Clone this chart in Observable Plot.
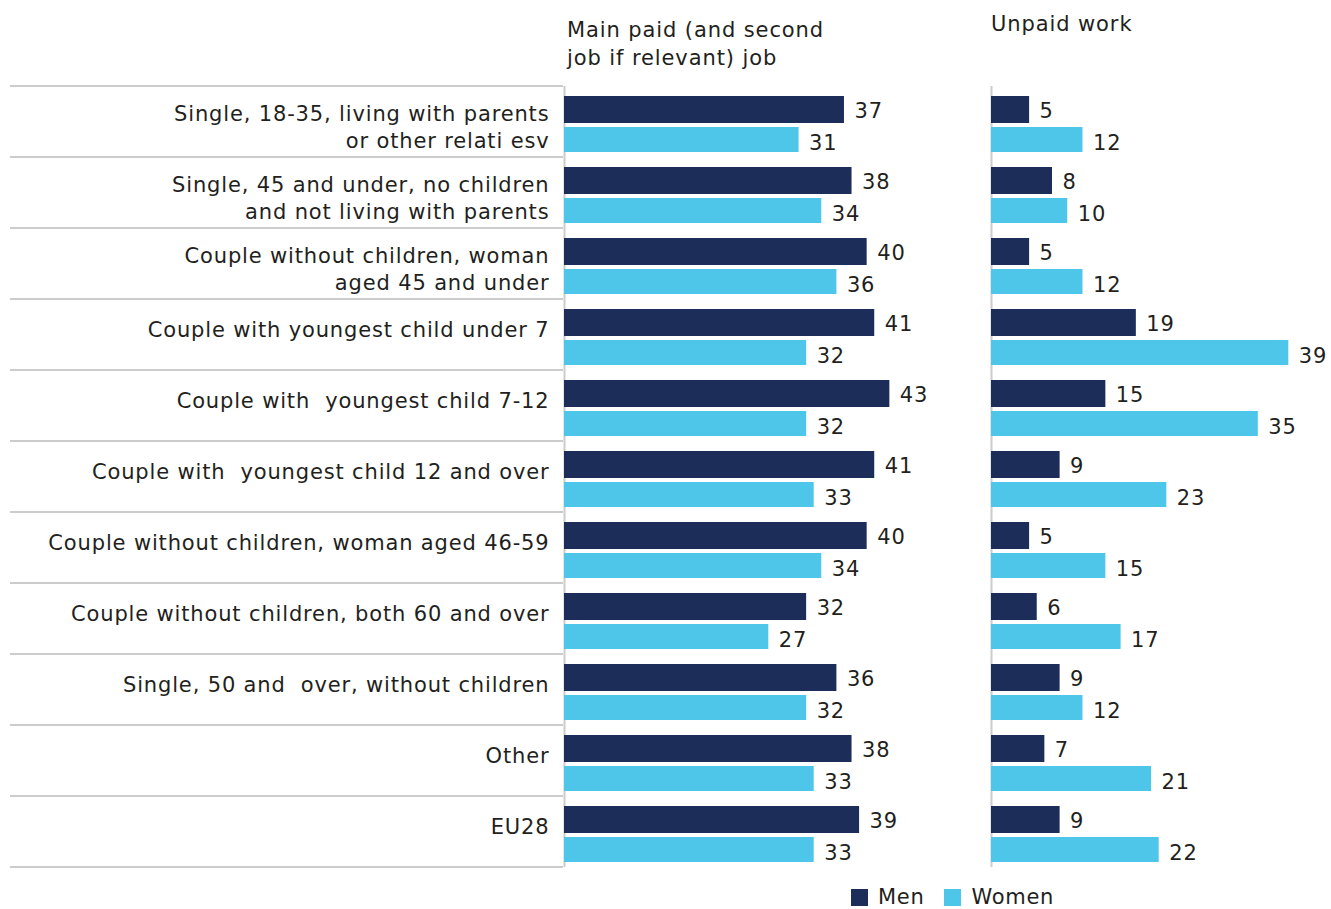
<!DOCTYPE html>
<html>
<head>
<meta charset="utf-8">
<script src="https://cdn.jsdelivr.net/npm/d3@7"></script>
<script src="https://cdn.jsdelivr.net/npm/@observablehq/plot@0.6"></script>
<style>
  body { margin: 0; background: #fff; font-family: "DejaVu Sans", sans-serif; color: #231f20; }
  #wrap { position: relative; width: 1331px; height: 909px; overflow: hidden; }
  .abs { position: absolute; }
  .title { font-size: 21px; line-height: 28px; color: #231f20; letter-spacing: 0.9px; }
  .legend { font-size: 21px; display: flex; align-items: center; letter-spacing: 0.7px; }
  .sw { width: 17px; height: 17px; display: inline-block; margin-right: 10px; }
  svg { overflow: visible; }
  svg text { letter-spacing: 0.85px; }
</style>
</head>
<body>
<div id="wrap">
  <div class="abs title" style="left:567px; top:16px;">Main paid (and second<br>job if relevant) job</div>
  <div class="abs title" style="left:991px; top:10px;">Unpaid work</div>
  <div id="p1" class="abs" style="left:0; top:80px;"></div>
  <div id="p2" class="abs" style="left:990px; top:80px;"></div>
  <div id="legend" class="abs legend" style="left:851px; top:885px;"></div>
</div>
<script>
const categories = [
  "Single, 18-35, living with parents\nor other relati esv",
  "Single, 45 and under, no children\nand not living with parents",
  "Couple without children, woman\naged 45 and under",
  "Couple with youngest child under 7",
  "Couple with  youngest child 7-12",
  "Couple with  youngest child 12 and over",
  "Couple without children, woman aged 46-59",
  "Couple without children, both 60 and over",
  "Single, 50 and  over, without children",
  "Other",
  "EU28"
];
const paidMen     = [37, 38, 40, 41, 43, 41, 40, 32, 36, 38, 39];
const paidWomen   = [31, 34, 36, 32, 32, 33, 34, 27, 32, 33, 33];
const unpaidMen   = [5, 8, 5, 19, 15, 9, 5, 6, 9, 7, 9];
const unpaidWomen = [12, 10, 12, 39, 35, 23, 15, 17, 12, 21, 22];
const seriesNames = ["Men", "Women"];
const colors = ["#1c2d5a", "#4ec6ea"];

const rows = categories.map((c, i) => ({
  cat: c, paidMen: paidMen[i], paidWomen: paidWomen[i],
  unpaidMen: unpaidMen[i], unpaidWomen: unpaidWomen[i]
}));
const multiLine = categories.filter(c => c.includes("\n"));
const singleLine = categories.filter(c => !c.includes("\n"));

const FONT = "DejaVu Sans, sans-serif";
const H = 790, MT = 6, MB = 3;

function panel({width, marginLeft, xmax, menKey, womenKey, withAxis}) {
  const marks = [
    Plot.ruleX([0], {stroke: "#cccccc", strokeWidth: 2}),
    Plot.barX(rows, {y: "cat", x: menKey, fill: colors[0], insetTop: 10, insetBottom: 34}),
    Plot.barX(rows, {y: "cat", x: womenKey, fill: colors[1], insetTop: 41, insetBottom: 5}),
    Plot.text(rows, {y: "cat", x: menKey, text: d => String(d[menKey]), dx: 10, dy: -11,
      textAnchor: "start", fontSize: 21, fill: "#231f20"}),
    Plot.text(rows, {y: "cat", x: womenKey, text: d => String(d[womenKey]), dx: 10, dy: 21,
      textAnchor: "start", fontSize: 21, fill: "#231f20"})
  ];
  if (withAxis) {
    marks.push(Plot.axisY(multiLine, {tickSize: 0, tickPadding: 15, fontSize: 21, lineHeight: 1.3,
      fill: "#231f20", label: null, dy: 4}));
    marks.push(Plot.axisY(singleLine, {tickSize: 0, tickPadding: 15, fontSize: 21,
      fill: "#231f20", label: null, dy: -5}));
  }
  return Plot.plot({
    width, height: H, marginLeft, marginRight: 0, marginTop: MT, marginBottom: MB,
    style: {fontFamily: FONT, fontSize: "21px", color: "#231f20", background: "transparent", overflow: "visible"},
    x: {domain: [0, xmax], axis: null},
    y: {domain: categories, padding: 0, axis: null, label: null},
    marks
  });
}

const plot1 = panel({width: 990, marginLeft: 564, xmax: 56.3, menKey: "paidMen", womenKey: "paidWomen", withAxis: true});
const plot2 = panel({width: 341, marginLeft: 1, xmax: 44.6, menKey: "unpaidMen", womenKey: "unpaidWomen", withAxis: false});
document.getElementById("p1").appendChild(plot1);
document.getElementById("p2").appendChild(plot2);

// row separator lines in the label area, positioned with Plot's own y scale
const ys = plot1.scale("y");
const bw = ys.bandwidth;
const edges = categories.map(c => ys.apply(c)).concat([ys.apply(categories[categories.length - 1]) + bw]);
const g = d3.select(plot1).append("g").attr("stroke", "#cccccc").attr("stroke-width", 2);
edges.forEach(yv => {
  g.append("line").attr("x1", 10).attr("x2", 563).attr("y1", yv).attr("y2", yv);
});

// legend
const lg = document.getElementById("legend");
seriesNames.forEach((n, i) => {
  const item = document.createElement("span");
  item.style.display = "inline-flex";
  item.style.alignItems = "center";
  item.style.marginRight = i === 0 ? "20px" : "0";
  item.innerHTML = `<span class="sw" style="background:${colors[i]}"></span><span>${n}</span>`;
  lg.appendChild(item);
});
</script>
</body>
</html>
